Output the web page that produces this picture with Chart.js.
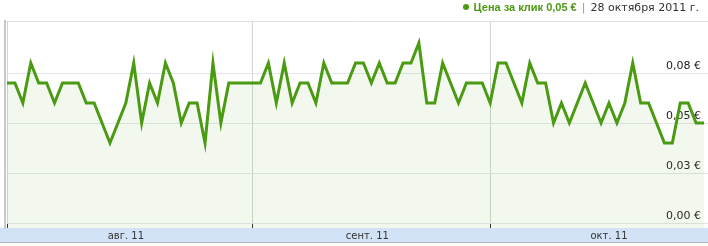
<!DOCTYPE html>
<html lang="ru">
<head>
<meta charset="utf-8">
<script src="https://cdn.jsdelivr.net/npm/chart.js@4.4.0/dist/chart.umd.min.js"></script>
<style>
  body { margin: 0; background: #fff; }
  #wrap { position: relative; width: 708px; height: 246px; }
  #chart { position: absolute; left: 0; top: 0; }
  #legend {
    position: absolute; top: 1px; right: 9px;
    font: 11px 'DejaVu Sans', sans-serif; line-height: 13px;
    white-space: nowrap; color: #333;
  }
  #legend .dot {
    display: inline-block; width: 6px; height: 6px; border-radius: 50%;
    background: #4a9a12; margin-right: 5px; vertical-align: 1px;
  }
  #legend .metric { font-family: 'Liberation Sans', Arial, sans-serif; font-weight: bold; color: #4a9a12; }
  #legend .sep { color: #999; margin: 0 5px; }
</style>
</head>
<body>
<div id="wrap">
  <canvas id="chart" width="708" height="246"></canvas>
  <div id="legend"><span class="dot"></span><span class="metric" id="metric"></span><span class="sep">|</span><span id="date"></span></div>
</div>
<script>
// daily cost per click, 1 Aug - 28 Oct 2011 (EUR)
const cpc = [
  0.07, 0.07, 0.06, 0.08, 0.07, 0.07, 0.06, 0.07, 0.07, 0.07, 0.06, 0.06, 0.05, 0.04, 0.05,
  0.06, 0.08, 0.05, 0.07, 0.06, 0.08, 0.07, 0.05, 0.06, 0.06, 0.04, 0.08, 0.05, 0.07, 0.07,
  0.07, 0.07, 0.07, 0.08, 0.06, 0.08, 0.06, 0.07, 0.07, 0.06, 0.08, 0.07, 0.07, 0.07, 0.08,
  0.08, 0.07, 0.08, 0.07, 0.07, 0.08, 0.08, 0.09, 0.06, 0.06, 0.08, 0.07, 0.06, 0.07, 0.07,
  0.07, 0.06, 0.08, 0.08, 0.07, 0.06, 0.08, 0.07, 0.07, 0.05, 0.06, 0.05, 0.06, 0.07, 0.06,
  0.05, 0.06, 0.05, 0.06, 0.08, 0.06, 0.06, 0.05, 0.04, 0.04, 0.06, 0.06, 0.05, 0.05
];
const monthStarts = [0, 31, 61];        // day index of 1st of month
const monthCenters = [15, 45.5, 76];    // where month names sit
const monthLabels = ['авг. 11', 'сент. 11', 'окт. 11'];
const yTicks = [0, 0.025, 0.05, 0.075];
const yTickLabels = ['0,00 €', '0,03 €', '0,05 €', '0,08 €'];
const metricName = 'Цена за клик';
const lastDate = '28 октября 2011 г.';

// header legend
const last = cpc[cpc.length - 1];
document.getElementById('metric').textContent = metricName + ' ' + last.toFixed(2).replace('.', ',') + ' €';
document.getElementById('date').textContent = lastDate;

const xTickValues = monthStarts.concat(monthCenters).sort((a, b) => a - b);
const isStart = v => monthStarts.indexOf(v) !== -1;

// light blue band under the plot
const bandPlugin = {
  id: 'band',
  beforeDraw(chart) {
    const s = chart.scales.x;
    const ctx = chart.ctx;
    ctx.save();
    ctx.fillStyle = '#d3e3f7';
    ctx.fillRect(0, s.top, chart.width, s.height);
    ctx.fillStyle = '#b4b4b4';
    ctx.fillRect(0, s.bottom, chart.width, 1);
    ctx.restore();
  }
};

new Chart(document.getElementById('chart').getContext('2d'), {
  type: 'line',
  data: {
    datasets: [{
      data: cpc.map((v, i) => ({ x: i, y: v })),
      xAxisID: 'x',
      yAxisID: 'y',
      borderColor: '#4a9a12',
      borderWidth: 3,
      pointRadius: 0,
      tension: 0,
      fill: 'start',
      backgroundColor: 'rgba(90, 160, 40, 0.08)'
    }]
  },
  options: {
    responsive: false,
    animation: false,
    devicePixelRatio: 1,
    layout: { padding: { top: 20, bottom: 4, left: 0, right: 0 } },
    font: { family: "'DejaVu Sans', sans-serif" },
    scales: {
      x: {
        type: 'linear',
        position: 'bottom',
        min: -0.3145,
        max: 88.503,
        afterBuildTicks: s => { s.ticks = xTickValues.map(v => ({ value: v })); },
        afterFit: s => { s.height = 14; },
        grid: {
          color: c => (c.tick && isStart(c.tick.value)) ? '#cfd8cf' : 'rgba(0,0,0,0)',
          tickColor: c => (c.tick && isStart(c.tick.value)) ? '#333' : 'rgba(0,0,0,0)',
          tickLength: -5,
          lineWidth: 1
        },
        border: { display: false },
        ticks: {
          autoSkip: false,
          maxRotation: 0,
          padding: 7,
          color: '#333',
          font: { family: "'DejaVu Sans', sans-serif", size: 10 },
          callback: v => {
            const i = monthCenters.indexOf(v);
            return i === -1 ? '' : monthLabels[i];
          }
        }
      },
      xt: {
        type: 'linear',
        position: 'top',
        afterFit: s => { s.height = 1; },
        grid: { display: false, drawTicks: false },
        border: { display: true, color: '#e0e0e0', width: 1 },
        ticks: { display: false }
      },
      y: {
        type: 'linear',
        position: 'right',
        min: -0.0025,
        max: 0.101,
        afterBuildTicks: s => { s.ticks = yTicks.map(v => ({ value: v })); },
        afterFit: s => { s.width = 0; },
        grid: { color: '#e4e4ec', drawTicks: false },
        border: { display: false },
        ticks: {
          mirror: true,
          padding: -7,
          labelOffset: -7,
          color: '#222',
          font: { family: "'DejaVu Sans', sans-serif", size: 11 },
          callback: v => yTickLabels[yTicks.indexOf(v)]
        }
      },
      yl: {
        type: 'linear',
        position: 'left',
        afterFit: s => { s.width = 2; },
        grid: { display: false, drawTicks: false },
        border: { display: true, color: '#c8c8c8', width: 2 },
        ticks: { display: false }
      }
    },
    plugins: {
      legend: { display: false },
      tooltip: { enabled: false }
    }
  },
  plugins: [bandPlugin]
});
</script>
</body>
</html>
